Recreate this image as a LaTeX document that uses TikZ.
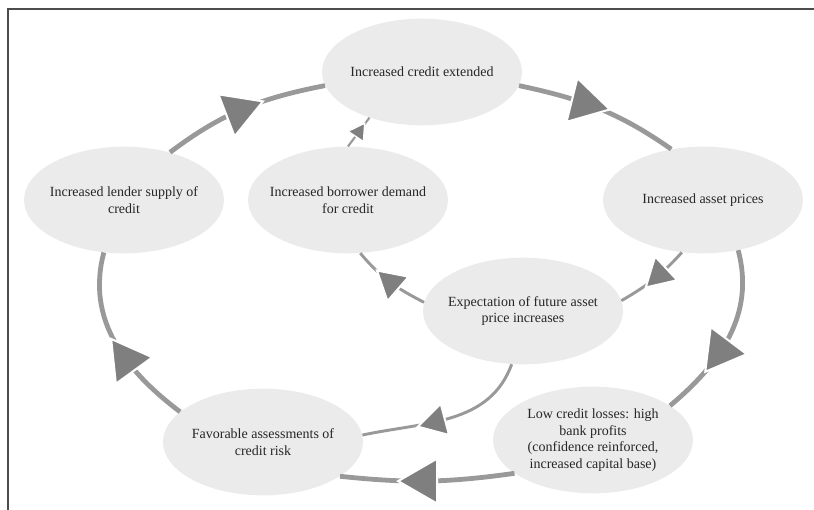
\documentclass[tikz,border=0pt]{standalone}
\usepackage{fontspec}
\setmainfont{Liberation Serif}
\usepackage{tikz}
\usetikzlibrary{shapes.geometric}

\definecolor{bubblefill}{HTML}{EBEBEB}
\definecolor{ringgray}{HTML}{999999}
\definecolor{headgray}{HTML}{7F7F7F}
\definecolor{inkgray}{HTML}{262626}

\begin{document}
\begin{tikzpicture}[x=0.75pt,y=0.75pt,
            bubble/.style={ellipse,fill=bubblefill,minimum width=150pt,minimum height=80pt,inner xsep=-6pt,inner ysep=0pt,align=center,text=inkgray,font=\fontsize{10.5}{12.5}\selectfont},
            ring/.style={draw=ringgray,line width=3.6pt},
            spoke/.style={draw=ringgray,line width=2.2pt},
            thinspoke/.style={spoke,line width=1.6pt},
            tip/.style={regular polygon,regular polygon sides=3,fill=headgray,draw=white,line width=1.5pt,inner sep=0pt,minimum size=39pt},
            smalltip/.style={tip,minimum size=28pt},
            tinytip/.style={tip,line width=1pt,minimum size=16pt},
            frame/.style={draw=black!70,line width=1.2pt}
          ]
          \useasboundingbox (0,0) rectangle (814,510);

          %frame
          \draw[frame] (8,0) -- (8,501) -- (814,501);

          %bubbles
          \node[bubble] (credit) at (422,438) {Increased credit extended};
          \node[bubble] (asset) at (703,310) {Increased asset prices};
          \node[bubble] (lender) at (124,310) {Increased lender supply of\\credit};
          \node[bubble] (borrower) at (348,310) {Increased borrower demand\\for credit};
          \node[bubble] (expect) at (523,199) {Expectation of future asset\\price increases};
          \node[bubble] (favor) at (263,68) {Favorable assessments of\\credit risk};
          \node[bubble] (losses) at (593,70) {Low credit losses: high\\bank profits\\(confidence reinforced,\\increased capital base)};

          %outer loop
          \draw[ring] (lender.46) to[out=37,in=191] node[tip,pos=.47,rotate=-69] {} (credit.188);
          \draw[ring] (credit.-8) to[out=-12,in=145] node[tip,pos=.4,rotate=-104] {} (asset.122);
          \draw[ring] (asset.-55) to[out=-75,in=40] node[tip,pos=.6,rotate=-97] {} (losses.24);
          \draw[ring] (losses.203) to[out=188,in=-6] node[tip,pos=.52,rotate=90] {} (favor.-24);
          \draw[ring] (favor.160) to[out=143,in=255] node[tip,pos=.38,rotate=-84] {} (lender.249);

          %inner links
          \draw[spoke] (asset.248) to[out=228,in=30] node[smalltip,pos=.4,rotate=13] {} (expect.6);
          \draw[spoke] (expect.175) to[out=153,in=-50] node[smalltip,pos=.47,rotate=169] {} (borrower.-77);
          \draw[spoke] (expect.258) to[out=250,in=12] node[smalltip,pos=.6,rotate=105] {} (favor.4);
          \draw[thinspoke] (borrower.north) -- node[tinytip,pos=.5,rotate=86] {} (credit.221);

      \end{tikzpicture}
\end{document}
